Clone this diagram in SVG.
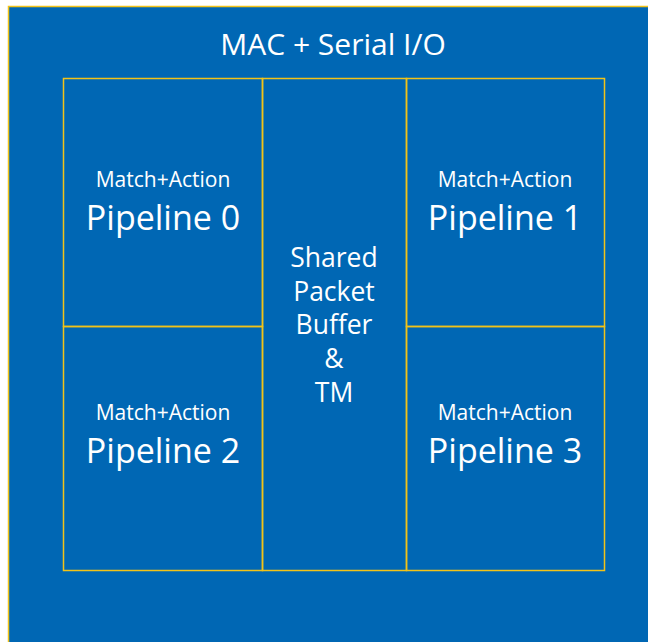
<svg xmlns="http://www.w3.org/2000/svg" width="648" height="642" viewBox="0 0 648 642">
<style>
.box{fill:#0067B4;stroke:#F2C318;stroke-width:1.5}
.cell{fill:none;stroke:#F2C318;stroke-width:1.5}
text{font-family:"Open Sans","Noto Sans",sans-serif;fill:#fff;text-anchor:middle}
.sm{font-size:21px}
.lg{font-size:34px}
.md{font-size:26.5px}
</style>
<rect width="648" height="642" fill="#fff"/>
<g id="mac">
<rect class="box" x="8.5" y="6.5" width="660" height="660"/>
<text x="333" y="55" style="font-size:30px">MAC + Serial I/O</text>
</g>
<g id="pipeline0">
<rect class="cell" x="63.5" y="78.5" width="199" height="248"/>
<text class="sm" x="163" y="187">Match+Action</text>
<text class="lg" x="163" y="230">Pipeline 0</text>
</g>
<g id="pipeline2">
<rect class="cell" x="63.5" y="326.5" width="199" height="244"/>
<text class="sm" x="163" y="420">Match+Action</text>
<text class="lg" x="163" y="463">Pipeline 2</text>
</g>
<g id="buffer">
<rect class="cell" x="262.5" y="78.5" width="144" height="492"/>
<text class="md" x="334" y="267">Shared</text>
<text class="md" x="334" y="301">Packet</text>
<text class="md" x="334" y="334">Buffer</text>
<text class="md" x="334" y="368">&amp;</text>
<text class="md" x="334" y="402">TM</text>
</g>
<g id="pipeline1">
<rect class="cell" x="406.5" y="78.5" width="198" height="248"/>
<text class="sm" x="505" y="187">Match+Action</text>
<text class="lg" x="505" y="230">Pipeline 1</text>
</g>
<g id="pipeline3">
<rect class="cell" x="406.5" y="326.5" width="198" height="244"/>
<text class="sm" x="505" y="420">Match+Action</text>
<text class="lg" x="505" y="463">Pipeline 3</text>
</g>
<g id="connectors"/>
</svg>
